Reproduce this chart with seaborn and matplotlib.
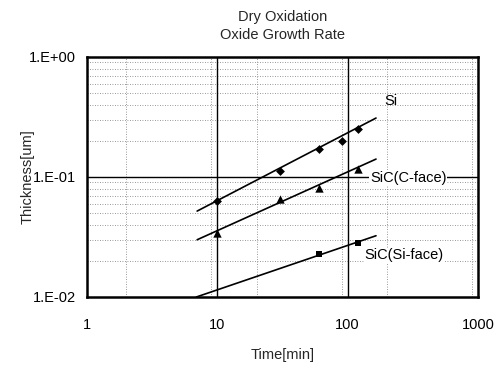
import numpy as np
import pandas as pd
import matplotlib
matplotlib.use("Agg")
import matplotlib.pyplot as plt
import seaborn as sns

# measured points
si_t = [10, 30, 60, 90, 120]
si_thk = [0.0635, 0.112, 0.171, 0.200, 0.250]
cf_t = [10, 30, 60, 120]
cf_thk = [0.034, 0.0656, 0.081, 0.117]
sf_t = [60, 120]
sf_thk = [0.0228, 0.0284]

# fitted trend lines (end points)
si_fit_t = [7.0, 165]
si_fit_thk = [0.052, 0.31]
cf_fit_t = [7.0, 165]
cf_fit_thk = [0.0300, 0.141]
sf_fit_t = [6.9, 165]
sf_fit_thk = [0.0100, 0.0324]

labels = ["Si", "SiC(C-face)", "SiC(Si-face)"]
label_pos_t = [190, 148, 135]
label_pos_thk = [0.43, 0.098, 0.0222]

sns.set_theme(style="white")
plt.rcParams['font.family'] = ['Liberation Sans', 'DejaVu Sans']

fig = plt.figure(figsize=(5.01, 3.67), dpi=100)
ax = fig.add_axes([87/501, 1-297/367, (478-87)/501, (297-57)/367])
ax.set_xscale('log')
ax.set_yscale('log')
ax.set_xlim(1, 1000)
ax.set_ylim(0.01, 1)

# grid
for d in [1, 10, 100]:
    for m in [2, 9]:
        ax.axvline(d*m, color='#777777', lw=0.6, ls=(0, (1, 2)), zorder=0)
for d in [0.01, 0.1]:
    for m in range(2, 10):
        ax.axhline(d*m, color='#777777', lw=0.6, ls=(0, (1, 2)), zorder=0)
for v in [10, 100]:
    ax.axvline(v, color='black', lw=1.0, zorder=1)
ax.axhline(0.1, color='black', lw=1.0, zorder=1)

fits = [(si_fit_t, si_fit_thk), (cf_fit_t, cf_fit_thk), (sf_fit_t, sf_fit_thk)]
for ft, fy in fits:
    sns.lineplot(x=ft, y=fy, ax=ax, color='black', lw=1.2, zorder=3)

pts = [(si_t, si_thk, 'D', 4.5), (cf_t, cf_thk, '^', 6), (sf_t, sf_thk, 's', 5)]
for t, y, mk, ms in pts:
    sns.scatterplot(x=t, y=y, ax=ax, marker=mk, color='black', s=ms**2,
                    edgecolor='black', linewidth=0, zorder=4)

for lab, lt, ly in zip(labels, label_pos_t, label_pos_thk):
    ax.text(lt, ly, lab, fontsize=10.5, va='center', ha='left', color='black', zorder=5,
            bbox=dict(facecolor='white', edgecolor='none', pad=0.5) if lab != 'Si' else None)

ax.set_xticks([1, 10, 100, 1000])
ax.set_xticklabels(['1', '10', '100', '1000'])
ax.set_yticks([0.01, 0.1, 1])
ax.set_yticklabels(['1.E-02', '1.E-01', '1.E+00'])
ax.minorticks_off()
ax.tick_params(axis='both', which='both', length=0, labelsize=10.5, colors='black')
ax.tick_params(axis='x', pad=15)
ax.tick_params(axis='y', pad=8)
for s in ax.spines.values():
    s.set_color('black')
    s.set_linewidth(1.8)

ax.set_xlabel('Time[min]', fontsize=10.5, labelpad=12)
ax.set_ylabel('Thickness[um]', fontsize=10.5, labelpad=-4)
ax.set_title('Dry Oxidation\nOxide Growth Rate', fontsize=10.5, pad=13, linespacing=1.35)

fig.savefig('out.png', dpi=100)
